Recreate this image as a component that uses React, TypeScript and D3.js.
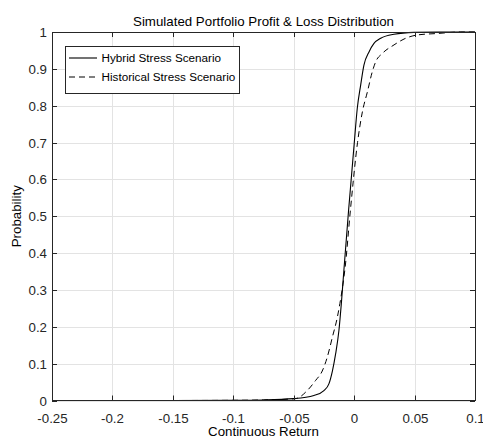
import React from "react";
import * as d3 from "d3";

const hybridX = [-0.25, -0.15, -0.1, -0.075, -0.05, -0.0333, -0.025, -0.0209, -0.018, -0.0153, -0.0126, -0.0106, -0.0085, -0.0046, 0, 0.0026, 0.0054, 0.0081, 0.0123, 0.0164, 0.022, 0.033, 0.0496, 0.07, 0.1];
const hybridP = [0, 0, 0.0005, 0.0015, 0.005, 0.0136, 0.027, 0.045, 0.08, 0.127, 0.19, 0.263, 0.353, 0.516, 0.695, 0.793, 0.856, 0.91, 0.946, 0.969, 0.983, 0.994, 0.999, 1, 1];

const histX = [-0.25, -0.15, -0.1, -0.075, -0.0485, -0.0388, -0.032, -0.0264, -0.0222, -0.018, -0.0139, -0.0118, -0.0095, -0.0075, -0.003, 0.0028, 0.0068, 0.011, 0.015, 0.0178, 0.0234, 0.033, 0.0413, 0.0524, 0.069, 0.088, 0.1];
const histP = [0, 0, 0.0005, 0.0015, 0.005, 0.027, 0.054, 0.08, 0.118, 0.172, 0.226, 0.263, 0.31, 0.36, 0.52, 0.7, 0.783, 0.838, 0.892, 0.919, 0.942, 0.965, 0.981, 0.992, 0.996, 1.0, 1.0];

const xTicks = [-0.25, -0.2, -0.15, -0.1, -0.05, 0, 0.05, 0.1];
const xTickLabels = ["-0.25", "-0.2", "-0.15", "-0.1", "-0.05", "0", "0.05", "0.1"];
const yTicks = [0, 0.1, 0.2, 0.3, 0.4, 0.5, 0.6, 0.7, 0.8, 0.9, 1];
const yTickLabels = ["0", "0.1", "0.2", "0.3", "0.4", "0.5", "0.6", "0.7", "0.8", "0.9", "1"];

const seriesNames = ["Hybrid Stress Scenario", "Historical Stress Scenario"];
const titleText = "Simulated Portfolio Profit & Loss Distribution";
const xLabelText = "Continuous Return";
const yLabelText = "Probability";

export default function App() {
  const W = 483, H = 443;
  const L = 52, R = 475, T = 32, B = 400.5;
  const x = d3.scaleLinear().domain([-0.25, 0.1]).range([L, R]);
  const y = d3.scaleLinear().domain([0, 1]).range([B, T]);
  const font = "'Liberation Sans', Arial, sans-serif";
  const axisColor = "#262626";
  const gridColor = "#e3e3e3";
  const tl = 5;
  const fs = 13.3;

  const line = d3
    .line<[number, number]>()
    .x((d) => x(d[0]))
    .y((d) => y(d[1]))
    .curve(d3.curveMonotoneX);

  const hyb = hybridX.map((v, i) => [v, hybridP[i]] as [number, number]);
  const his = histX.map((v, i) => [v, histP[i]] as [number, number]);

  const cx = (L + R) / 2;
  const cy = (T + B) / 2;

  return (
    <svg width={W} height={H} style={{ position: "absolute", left: 0, top: 0, background: "#fff" }} fontFamily={font}>
      <rect x={0} y={0} width={W} height={H} fill="#fff" />
      {xTicks.map((t, i) => (
        <line key={"gx" + i} x1={Math.round(x(t)) + 0.5} x2={Math.round(x(t)) + 0.5} y1={T} y2={B} stroke={gridColor} strokeWidth={1} />
      ))}
      {yTicks.map((t, i) => (
        <line key={"gy" + i} x1={L} x2={R} y1={Math.round(y(t)) + 0.5} y2={Math.round(y(t)) + 0.5} stroke={gridColor} strokeWidth={1} />
      ))}
      <path d={line(hyb) || ""} fill="none" stroke="#000" strokeWidth={1.1} />
      <path d={line(his) || ""} fill="none" stroke="#000" strokeWidth={1} strokeDasharray="6,4" />
      <rect x={L + 0.5} y={T + 0.5} width={R - L} height={B - T - 0.5} fill="none" stroke={axisColor} strokeWidth={1} />
      {xTicks.map((t, i) => {
        const px = Math.round(x(t)) + 0.5;
        return (
          <g key={"tx" + i}>
            <line x1={px} x2={px} y1={B} y2={B - tl} stroke={axisColor} />
            <line x1={px} x2={px} y1={T} y2={T + tl} stroke={axisColor} />
            <text x={px} y={423} fontSize={fs} textAnchor="middle" fill={axisColor}>
              {xTickLabels[i]}
            </text>
          </g>
        );
      })}
      {yTicks.map((t, i) => {
        const py = Math.round(y(t)) + 0.5;
        return (
          <g key={"ty" + i}>
            <line x1={L} x2={L + tl} y1={py} y2={py} stroke={axisColor} />
            <line x1={R} x2={R - tl} y1={py} y2={py} stroke={axisColor} />
            <text x={47} y={py + 4.8} fontSize={fs} textAnchor="end" fill={axisColor}>
              {yTickLabels[i]}
            </text>
          </g>
        );
      })}
      <text x={cx} y={25.5} fontSize={fs} textAnchor="middle" fill="#000">
        {titleText}
      </text>
      <text x={cx} y={436} fontSize={fs} textAnchor="middle" fill="#000">
        {xLabelText}
      </text>
      <text x={0} y={0} transform={`translate(21,${cy}) rotate(-90)`} fontSize={fs} textAnchor="middle" fill="#000">
        {yLabelText}
      </text>
      <rect x={65.5} y={46.5} width={174} height={47} fill="#fff" stroke={axisColor} strokeWidth={1} />
      <line x1={69} x2={97} y1={58} y2={58} stroke="#000" strokeWidth={1.1} />
      <text x={101.5} y={62.3} fontSize={11.7} fill="#000">
        {seriesNames[0]}
      </text>
      <line x1={69} x2={97} y1={77} y2={77} stroke="#000" strokeWidth={1} strokeDasharray="6,4" />
      <text x={101.5} y={81.3} fontSize={11.7} fill="#000">
        {seriesNames[1]}
      </text>
    </svg>
  );
}
